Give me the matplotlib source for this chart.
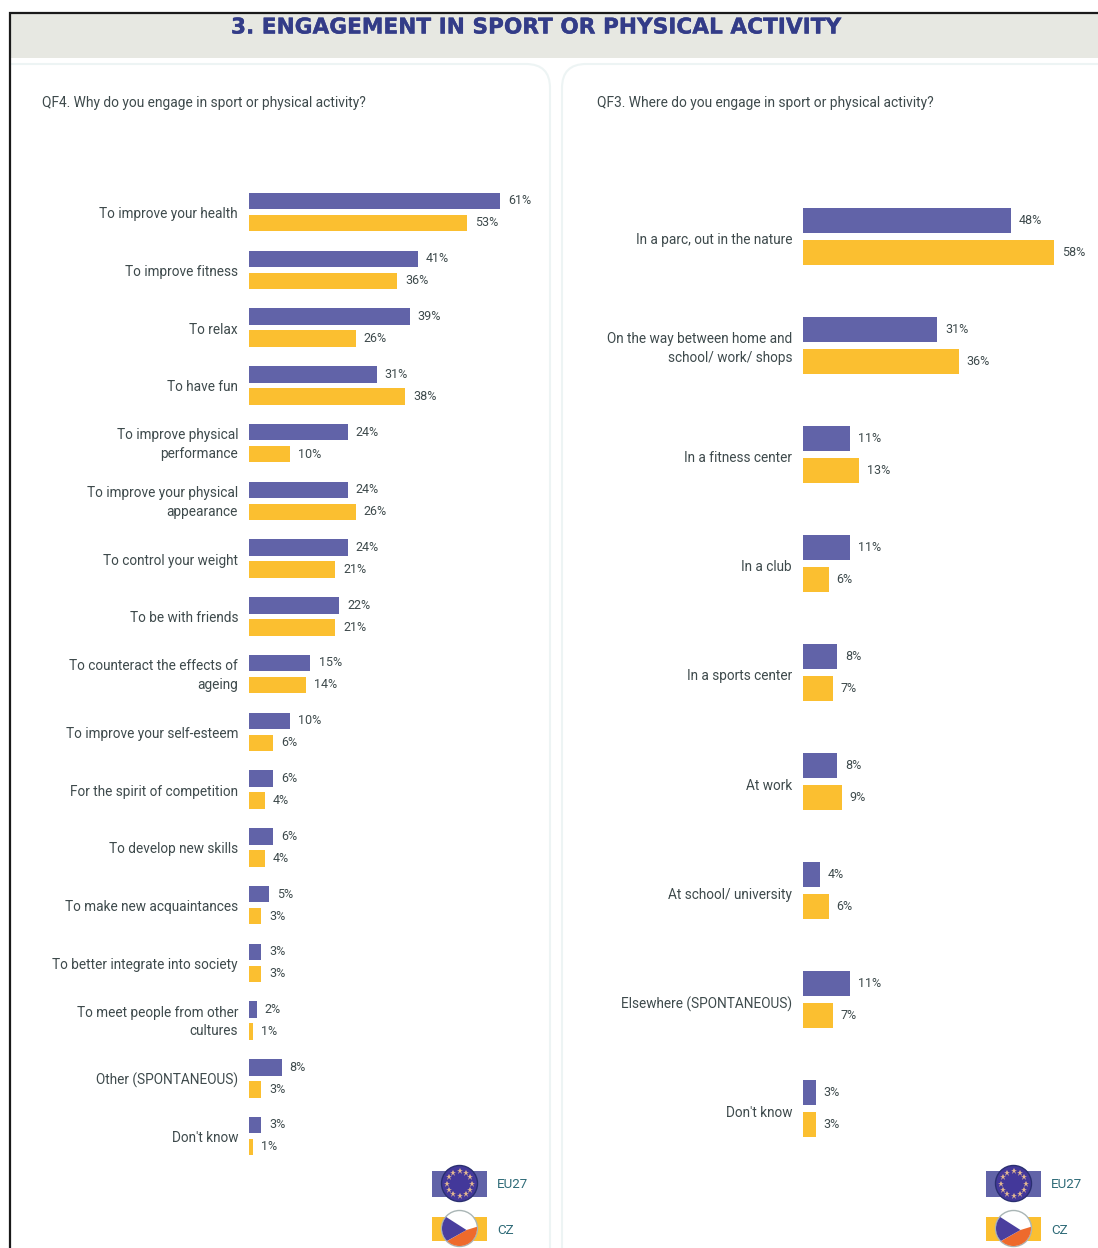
import math
import matplotlib
matplotlib.use('Agg')
import matplotlib.pyplot as plt
import matplotlib.patheffects as pe
from matplotlib.patches import Rectangle, Circle, FancyBboxPatch, Polygon

W, H = 1098, 1248

# QF4 values
why_labels = ['To improve your health', 'To improve fitness', 'To relax', 'To have fun',
              'To improve physical\nperformance', 'To improve your physical\nappearance',
              'To control your weight', 'To be with friends',
              'To counteract the effects of\nageing', 'To improve your self-esteem',
              'For the spirit of competition', 'To develop new skills',
              'To make new acquaintances', 'To better integrate into society',
              'To meet people from other\ncultures', 'Other (SPONTANEOUS)', "Don't know"]
why_eu = [61, 41, 39, 31, 24, 24, 24, 22, 15, 10, 6, 6, 5, 3, 2, 8, 3]
why_cz = [53, 36, 26, 38, 10, 26, 21, 21, 14, 6, 4, 4, 3, 3, 1, 3, 1]

# QF3 values
where_labels = ['In a parc, out in the nature', 'On the way between home and\nschool/ work/ shops',
                'In a fitness center', 'In a club', 'In a sports center', 'At work',
                'At school/ university', 'Elsewhere (SPONTANEOUS)', "Don't know"]
where_eu = [48, 31, 11, 11, 8, 8, 4, 11, 3]
where_cz = [58, 36, 13, 6, 7, 9, 6, 7, 3]

EU_COLOR = '#6163A8'
CZ_COLOR = '#FBBF30'
TEXT_COLOR = '#3E4A4C'
BODY_FONT = ['Roboto', 'Liberation Sans', 'DejaVu Sans']

fig = plt.figure(figsize=(W / 100, H / 100), dpi=100)

# background layer works in pixels, y going down
bg = fig.add_axes([0, 0, 1, 1])
bg.set_xlim(0, W)
bg.set_ylim(H, 0)
bg.axis('off')


def draw_panel(x0, x1):
    bg.add_patch(FancyBboxPatch((x0, 64), x1 - x0, 1240, boxstyle='round,pad=0,rounding_size=24',
                                facecolor='white', edgecolor='#EDF4F4', linewidth=1.5))


draw_panel(-40, 550)
draw_panel(562, 1140)

bg.add_patch(Rectangle((0, 0), 10, H, facecolor='white', edgecolor='none'))
bg.add_patch(Rectangle((10, 13), W, 45, facecolor='#E7E8E2', edgecolor='none'))
bg.plot([10, 10, W], [H, 13, 13], color='#1A1A1A', linewidth=1.6, solid_joinstyle='miter')
title = bg.text(536, 27.5, '3. ENGAGEMENT IN SPORT OR PHYSICAL ACTIVITY', ha='center', va='center',
                fontsize=15.6, fontweight='bold', family='DejaVu Sans', color='#333C88')
title.set_path_effects([pe.withStroke(linewidth=0.25, foreground='#333C88')])

bg.text(42, 103.5, 'QF4. Why do you engage in sport or physical activity?', ha='left', va='center',
        fontsize=9.95, family=BODY_FONT, color=TEXT_COLOR)
bg.text(597, 103.5, 'QF3. Where do you engage in sport or physical activity?', ha='left', va='center',
        fontsize=9.95, family=BODY_FONT, color=TEXT_COLOR)


def draw_bars(labels, eu, cz, x0, px_per_pct, first_y, step, offset, bar_h, label_dy):
    # axes covers one pixel band per category so the bars use category positions
    n = len(labels)
    top = first_y - step / 2
    bottom = first_y + step * (n - 0.5)
    right = min(x0 + 300, W)
    ax = fig.add_axes([x0 / W, 1 - bottom / H, (right - x0) / W, (bottom - top) / H])
    ax.patch.set_alpha(0)
    ax.set_xlim(0, (right - x0) / px_per_pct)
    ax.set_ylim(n - 0.5, -0.5)
    pos = list(range(n))
    d = offset / step
    h = bar_h / step
    eu_bars = ax.barh([p - d for p in pos], eu, height=h, color=EU_COLOR)
    cz_bars = ax.barh([p + d for p in pos], cz, height=h, color=CZ_COLOR)
    for bars in (eu_bars, cz_bars):
        ax.bar_label(bars, fmt='%d%%', padding=5.8, fontsize=9, family=BODY_FONT, color=TEXT_COLOR)
    # two-line labels need pulling up, their block centres lower than one-liners
    ticks = [p + (label_dy - 3 if '\n' in lab else label_dy) / step for p, lab in zip(pos, labels)]
    ax.set_yticks(ticks)
    ax.set_yticklabels(labels, fontsize=9.8, family=BODY_FONT, color=TEXT_COLOR, linespacing=1.42)
    ax.tick_params(axis='y', length=0, pad=7.5)
    ax.set_xticks([])
    for s in ax.spines.values():
        s.set_visible(False)


draw_bars(why_labels, why_eu, why_cz, 248.5, 4.13, 212, 57.75, 11, 16.5, 0.7)
draw_bars(where_labels, where_eu, where_cz, 802.5, 4.34, 236, 109.1, 16, 25, 2.5)


def draw_legend(x):
    cx = x + 27.5
    # EU27 key
    bg.add_patch(Rectangle((x, 1171), 55, 26, facecolor=EU_COLOR, edgecolor='none'))
    bg.add_patch(Circle((cx, 1183.5), 18, facecolor='#43389A', edgecolor='#2A2F70', linewidth=1))
    for k in range(12):
        a = math.radians(30 * k)
        bg.plot(cx + 12.5 * math.cos(a), 1183.5 + 12.5 * math.sin(a), marker='*', markersize=5,
                color='#E3B890', markeredgewidth=0)
    bg.text(x + 65, 1184, 'EU27', ha='left', va='center', fontsize=9.6, family=BODY_FONT, color='#2F6B78')
    # CZ key
    bg.add_patch(Rectangle((x, 1217), 55, 24, facecolor=CZ_COLOR, edgecolor='none'))
    bg.add_patch(Circle((cx, 1228.5), 18, facecolor='white', edgecolor='#A9B5B5', linewidth=1))
    lower = Polygon([(cx + 7, 1230), (cx + 20, 1226), (cx + 20, 1250), (cx - 20, 1250), (cx - 14, 1242)],
                    facecolor='#EE6A2C', edgecolor='none')
    bg.add_patch(lower)
    lower.set_clip_path(Circle((cx, 1228.5), 17.5, transform=bg.transData))
    tri = Polygon([(cx - 18, 1214), (cx + 7, 1230), (cx - 18, 1244)], facecolor='#4A3F9E', edgecolor='none')
    bg.add_patch(tri)
    tri.set_clip_path(Circle((cx, 1228.5), 17.5, transform=bg.transData))
    bg.text(x + 65, 1230, 'CZ', ha='left', va='center', fontsize=9.6, family=BODY_FONT, color='#2F6B78')


draw_legend(432)
draw_legend(986)

fig.savefig('out.png', dpi=100)
